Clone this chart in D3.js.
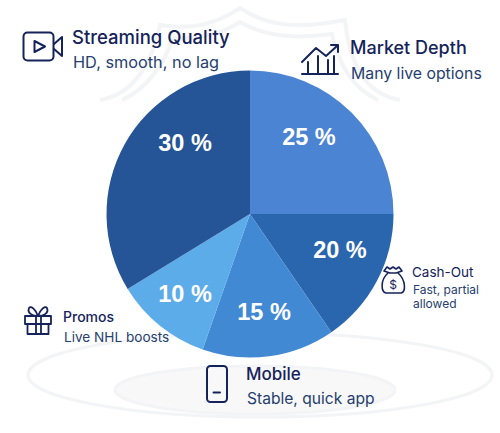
<!DOCTYPE html>
<html><head><meta charset="utf-8">
<script src="https://cdn.jsdelivr.net/npm/d3@7"></script>
<style>html,body{margin:0;padding:0;background:#fff}svg{display:block}</style>
</head><body><div id="c"></div>
<script>
const categories=["Market Depth","Cash-Out","Mobile","Promos","Streaming Quality"];
const percentLabels=["25 %","20 %","15 %","10 %","30 %"];
const drawnShares=[25,15.4,14.95,10.9,33.75];
const sliceColors=["#4a84d2","#2a66ad","#4189d3","#5dacea","#255596"];
const labelOffsets=[[59,-77],[90,36],[14,98],[-65,80],[-65,-71]];

const svg=d3.select("#c").append("svg").attr("width",500).attr("height",433);
const font="Inter, 'Noto Sans', sans-serif";

// faint watermark
const wm=svg.append("g").attr("fill","none").attr("stroke","#f3f4f6").attr("stroke-width",4);
wm.append("path").attr("d","M100 100C130 95 150 70 160 25C190 30 215 25 240 8C265 25 295 30 345 20C350 70 370 95 400 100");
wm.append("path").attr("d","M122 100C145 90 165 65 172 38C195 40 220 35 240 22C262 35 290 40 332 34C338 65 355 90 378 100");
wm.append("ellipse").attr("cx",260).attr("cy",375).attr("rx",232).attr("ry",42).attr("stroke-width",3);
wm.append("ellipse").attr("cx",255).attr("cy",390).attr("rx",140).attr("ry",24).attr("fill","#f8f8f9").attr("stroke-width",3);

const g=svg.append("g").attr("transform","translate(250,214)");
const pie=d3.pie().sort(null).value(d=>d);
const arc=d3.arc().innerRadius(0).outerRadius(143.5);
g.selectAll("path.s").data(pie(drawnShares)).join("path").attr("class","s")
 .attr("d",arc).attr("fill",(d,i)=>sliceColors[i]);
g.selectAll("text").data(percentLabels).join("text")
 .attr("x",(d,i)=>labelOffsets[i][0]).attr("y",(d,i)=>labelOffsets[i][1]+8)
 .attr("text-anchor","middle").attr("fill","#fff")
 .attr("font-family","'Liberation Sans',Arial,sans-serif").attr("font-weight",700).attr("font-size",23.5)
 .text(d=>d);

const callouts=[
 {t:"Streaming Quality",x:72,y:44,s:18.5,w:500,lines:[["HD, smooth, no lag",68,16.3]]},
 {t:"Market Depth",x:350,y:54,s:18,w:500,lines:[["Many live options",79,15.8]]},
 {t:"Cash-Out",x:412,y:277,s:13.5,w:400,lines:[["Fast, partial",294,12],["allowed",308,12]]},
 {t:"Promos",x:63,y:322,s:14,w:500,lines:[["Live NHL boosts",342,13.6]]},
 {t:"Mobile",x:246,y:380,s:17,w:500,lines:[["Stable, quick app",404,15.6]]}
];
callouts.forEach(c=>{
 svg.append("text").attr("x",c.x).attr("y",c.y).attr("font-family",font).attr("font-size",c.s).attr("font-weight",c.w).attr("fill","#15235a").text(c.t);
 c.lines.forEach(l=>svg.append("text").attr("x",c.x+1).attr("y",l[1]).attr("font-family",font).attr("font-size",l[2]).attr("fill","#26406f").text(l[0]));
});

const ic=svg.append("g").attr("fill","none").attr("stroke","#15235a").attr("stroke-width",2).attr("stroke-linejoin","round").attr("stroke-linecap","round");
// video
ic.append("rect").attr("x",23.5).attr("y",32.5).attr("width",30).attr("height",28).attr("rx",4);
ic.append("path").attr("d","M34.5 41L45 46.5L34.5 52Z");
ic.append("path").attr("d","M54 44L62 37V56L54 49");
// chart
ic.append("path").attr("d","M302 74H338M308 74V62M318 74V56M328 74V60M334 74V56M302 62L316 48L326 56L337 46");
ic.append("path").attr("d","M331 45H338V52");
// money bag
ic.append("path").attr("stroke-width",1.6).attr("d","M387 267L384 271L390 273L396 273L402 271L399 267L396 269L393 267L390 269ZM388 273C380 280 381 292 386 293H401C406 292 406 280 398 273");
ic.append("text").attr("x",393).attr("y",289).attr("text-anchor","middle").attr("stroke","none").attr("fill","#15235a").attr("font-size",12).attr("font-family",font).text("$");
// gift
ic.append("path").attr("stroke-width",1.8).attr("d","M25 316H51V324H25ZM27.5 324V334H48.5V324M36 316V334M41 316V334M38 316C32 316 27 313 29 308C31 305 36 310 38 316C40 310 45 305 47 308C49 313 44 316 38 316");
// phone
ic.append("rect").attr("x",207).attr("y",366).attr("width",20).attr("height",36).attr("rx",3.5);
ic.append("path").attr("d","M213.5 392.5H220");
</script></body></html>
